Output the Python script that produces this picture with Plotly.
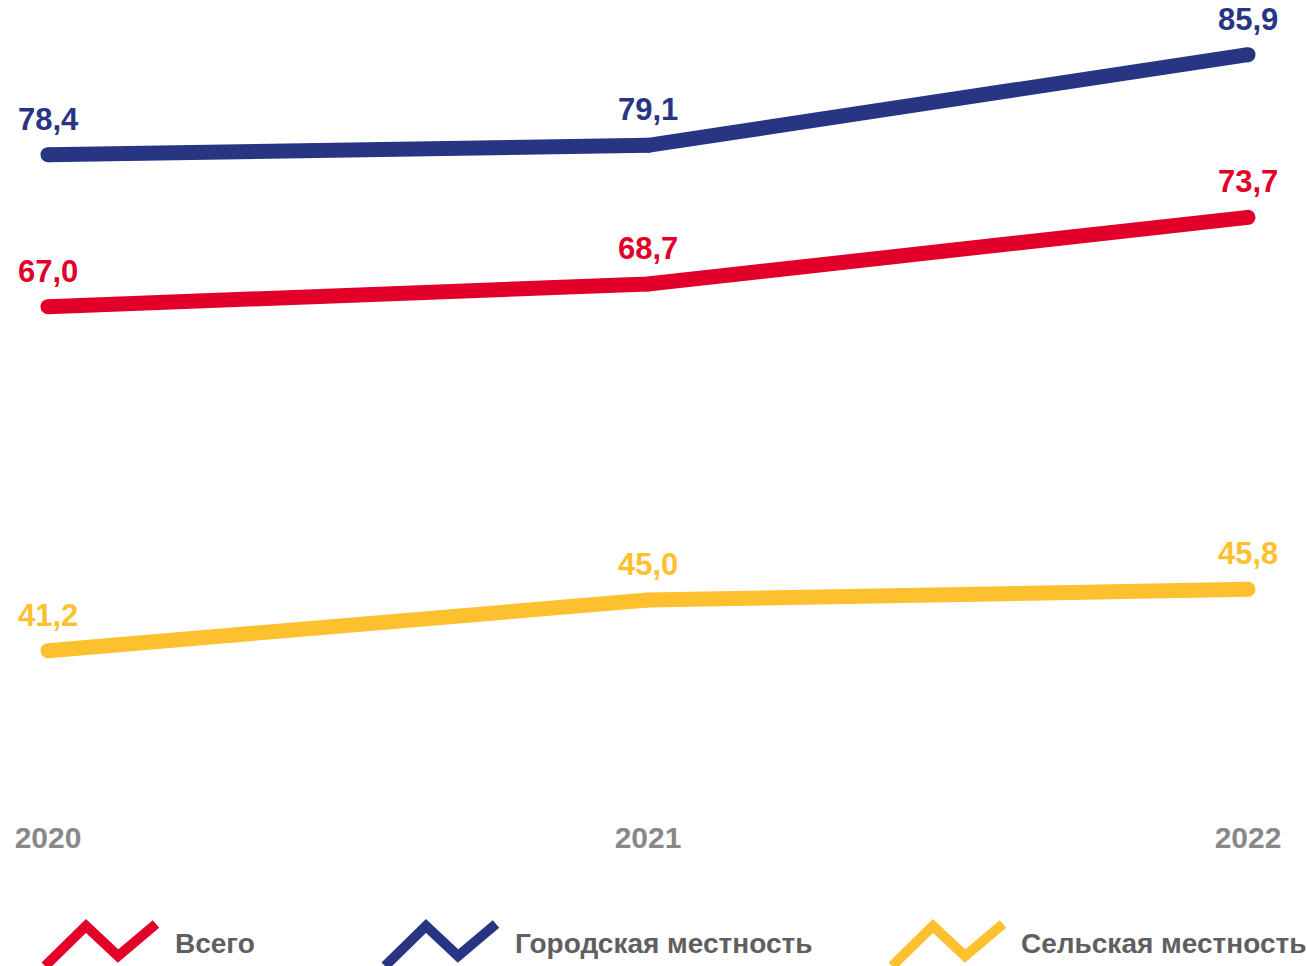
import plotly.graph_objects as go

years = [2020, 2021, 2022]
year_labels = ["2020", "2021", "2022"]
series_names = ["Всего", "Городская местность", "Сельская местность"]
total = [67.0, 68.7, 73.7]
urban = [78.4, 79.1, 85.9]
rural = [41.2, 45.0, 45.8]

colors = ["#E2002B", "#283583", "#FDC12F"]
series_values = [total, urban, rural]

W, H = 1307, 966
PLOT_BOTTOM = 800  # px

fig = go.Figure()
for name, vals, col in zip(series_names, series_values, colors):
    fig.add_trace(go.Scatter(
        x=years, y=vals, name=name, mode="lines+markers",
        line=dict(color=col, width=15),
        marker=dict(color=col, size=15, line=dict(width=0)),
        showlegend=False, hoverinfo="skip",
    ))

annotations = []
for vals, col in zip(series_values, colors):
    for xv, yv in zip(years, vals):
        annotations.append(dict(
            x=xv, y=yv, xref="x", yref="y",
            text=f"{yv:.1f}".replace(".", ","),
            showarrow=False, yanchor="bottom", xanchor="center",
            yshift=16,
            font=dict(family="Liberation Sans, Arial, sans-serif", size=31, color=col, weight="bold"),
        ))

# legend (custom zigzag icons + labels)
def px_to_paper(px, py):
    return px / W, (PLOT_BOTTOM - py) / PLOT_BOTTOM

icon_pts = [(2, 966), (43, 926), (75, 956), (113, 924)]
legend_x = [43, 383, 890]
legend_text_x = [173, 513, 1019]
shapes = []
for lx, tx, name, col in zip(legend_x, legend_text_x, series_names, colors):
    pts = [px_to_paper(lx + dx, dy) for dx, dy in icon_pts]
    path = "M " + " L ".join(f"{a:.5f},{b:.5f}" for a, b in pts)
    shapes.append(dict(type="path", path=path, xref="paper", yref="paper",
                       line=dict(color=col, width=10)))
    ax, ay = px_to_paper(tx, 943)
    annotations.append(dict(
        x=ax, y=ay, xref="paper", yref="paper", text=name, showarrow=False,
        xanchor="left", yanchor="middle",
        font=dict(family="Liberation Sans, Arial, sans-serif", size=28, color="#5F5F5F", weight="bold"),
    ))

x0 = 2020 - 48 / 600
x1 = 2022 + (W - 1248) / 600

fig.update_layout(
    width=W, height=H,
    margin=dict(l=0, r=0, t=0, b=H - PLOT_BOTTOM, pad=0),
    paper_bgcolor="white", plot_bgcolor="white",
    xaxis=dict(range=[x0, x1], tickvals=years, ticktext=year_labels,
               showgrid=False, zeroline=False, showline=False, ticks="",
               ticklabelstandoff=17,
               tickfont=dict(family="Liberation Sans, Arial, sans-serif", size=30, color="#888888", weight="bold")),
    yaxis=dict(range=[30, 90], visible=False, showgrid=False, zeroline=False),
    annotations=annotations,
    shapes=shapes,
    hovermode=False,
)

fig.write_html("out.html", config={"displayModeBar": False, "staticPlot": True},
               post_script="document.body.style.margin='0';document.body.style.overflow='hidden';")
